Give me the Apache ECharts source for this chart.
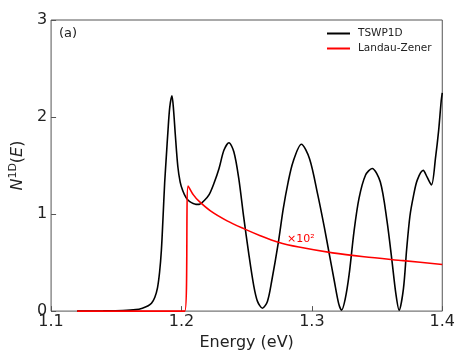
<!DOCTYPE html>
<html>
<head>
<meta charset="utf-8">
<script src="https://cdn.jsdelivr.net/npm/echarts@6/dist/echarts.min.js"></script>
<style>
  html, body { margin: 0; padding: 0; background: #fff; }
  #chart { width: 458px; height: 356px; }
</style>
</head>
<body>
<div id="chart"></div>
<script>
// energy (eV) vs N^1D(E)
const tswpE = [1.12, 1.14, 1.155, 1.165, 1.17, 1.1745, 1.177, 1.1795, 1.1816, 1.1832, 1.1846, 1.1858, 1.1871, 1.1884, 1.1896, 1.191, 1.1927, 1.194, 1.1952, 1.1972, 1.199, 1.201, 1.2035, 1.2061, 1.2111, 1.2136, 1.2175, 1.2212, 1.225, 1.2288, 1.2326, 1.2364, 1.2402, 1.2439, 1.2477, 1.2515, 1.2553, 1.2583, 1.2621, 1.2659, 1.2692, 1.2742, 1.278, 1.2818, 1.2856, 1.2919, 1.2982, 1.3045, 1.3096, 1.3134, 1.3172, 1.3205, 1.3228, 1.3255, 1.3286, 1.3323, 1.3361, 1.3411, 1.3462, 1.3525, 1.3576, 1.3614, 1.3644, 1.3669, 1.3702, 1.3727, 1.3752, 1.3778, 1.3808, 1.3854, 1.3884, 1.3917, 1.3949, 1.3972, 1.3992, 1.4]
const tswpN = [0, 0.002, 0.006, 0.015, 0.03, 0.055, 0.08, 0.14, 0.24, 0.40, 0.63, 0.95, 1.32, 1.60, 1.85, 2.10, 2.22, 2.06, 1.83, 1.49, 1.33, 1.24, 1.17, 1.13, 1.10, 1.10, 1.14, 1.20, 1.32, 1.47, 1.66, 1.735, 1.64, 1.37, 0.97, 0.60, 0.27, 0.10, 0.03, 0.10, 0.31, 0.70, 1.05, 1.33, 1.54, 1.72, 1.57, 1.20, 0.86, 0.585, 0.31, 0.08, 0.01, 0.12, 0.38, 0.82, 1.16, 1.40, 1.47, 1.33, 0.93, 0.52, 0.18, 0.01, 0.23, 0.64, 0.98, 1.18, 1.35, 1.45, 1.38, 1.30, 1.59, 1.86, 2.17, 2.25]

const lzE = [1.12, 1.2025, 1.2051, 1.209, 1.2136, 1.2225, 1.235, 1.2477, 1.26, 1.2742, 1.29, 1.3159, 1.34, 1.37, 1.4]
const lzN = [0, 0, 1.29, 1.20, 1.13, 1.03, 0.93, 0.85, 0.78, 0.71, 0.66, 0.60, 0.56, 0.52, 0.48]

const xTicks = [1.1, 1.2, 1.3, 1.4]
const yTicks = [0, 1, 2, 3]

const font = 'DejaVu Sans'
const chart = echarts.init(document.getElementById('chart'))

chart.setOption({
  animation: false,
  backgroundColor: '#fff',
  textStyle: { fontFamily: font },
  grid: { left: 50, right: 12, top: 20, bottom: 42, show: true, borderColor: '#555', borderWidth: 1 },
  legend: {
    orient: 'vertical', left: 327, top: 28, padding: 0, icon: 'rect',
    itemWidth: 23, itemHeight: 2, itemGap: 4,
    textStyle: { fontSize: 10.5, color: '#222', fontFamily: font, padding: [0, 0, 0, 3] },
    data: ['TSWP1D', 'Landau-Zener'],
  },
  xAxis: {
    type: 'value', min: xTicks[0], max: xTicks[xTicks.length - 1], interval: 0.1,
    name: 'Energy (eV)', nameLocation: 'middle', nameGap: 22,
    nameTextStyle: { fontSize: 16, color: '#222' },
    axisLine: { show: false },
    axisTick: { show: true, inside: true, length: 5, lineStyle: { color: '#555' } },
    axisLabel: { fontSize: 16, color: '#222', margin: 3, formatter: v => v.toFixed(1) },
    splitLine: { show: false },
  },
  yAxis: {
    type: 'value', min: yTicks[0], max: yTicks[yTicks.length - 1], interval: 1,
    name: '{n|N}{s|1D}{p|(}{n|E}{p|)}', nameLocation: 'middle', nameGap: 22,
    nameTextStyle: {
      color: '#222',
      rich: {
        n: { fontSize: 16, fontStyle: 'italic', fontFamily: font, color: '#222' },
        s: { fontSize: 11, fontFamily: font, color: '#222', padding: [0, 0, 9, 0] },
        p: { fontSize: 16, fontFamily: font, color: '#222' },
      },
    },
    axisLine: { show: false },
    axisTick: { show: true, inside: true, length: 5, lineStyle: { color: '#555' } },
    axisLabel: { fontSize: 16, color: '#222', margin: 4 },
    splitLine: { show: false },
  },
  series: [
    {
      name: 'TSWP1D', type: 'line', symbol: 'none', smooth: 0.3,
      data: tswpE.map((e, i) => [e, tswpN[i]]),
      lineStyle: { color: '#000', width: 1.6 }, itemStyle: { color: '#000' },
    },
    {
      name: 'Landau-Zener', type: 'line', symbol: 'none', smooth: 0.3,
      data: lzE.map((e, i) => [e, lzN[i]]),
      lineStyle: { color: '#ff0000', width: 1.6 }, itemStyle: { color: '#ff0000' },
    },
  ],
  graphic: [
    { type: 'text', left: 59, top: 27, style: { text: '(a)', fontSize: 13, fill: '#222', fontFamily: font } },
    { type: 'text', left: 287, top: 234, style: { text: '×10²', fontSize: 11, fill: '#ff0000', fontFamily: font } },
  ],
})
</script>
</body>
</html>
